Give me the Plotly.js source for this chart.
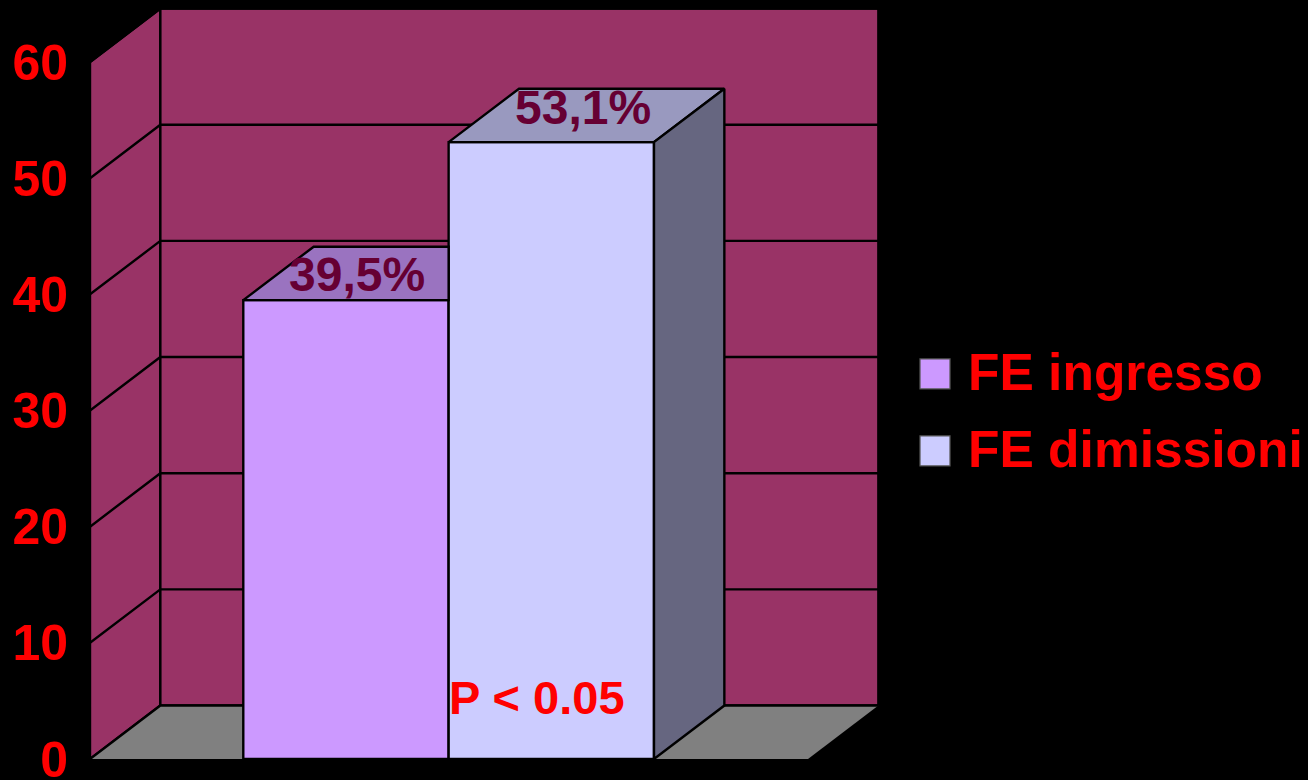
<!DOCTYPE html>
<html>
<head>
<meta charset="utf-8">
<script src="https://cdn.plot.ly/plotly-3.0.1.min.js"></script>
<style>html,body{margin:0;padding:0;background:#000;overflow:hidden}</style>
</head>
<body>
<div id="chart" style="width:1308px;height:780px"></div>
<script>
// Data
const seriesNames = ['FE ingresso', 'FE dimissioni'];
const seriesValues = [39.5, 53.1];
const valueLabels = ['39,5%', '53,1%'];
const yTicks = [0, 10, 20, 30, 40, 50, 60];
const note = 'P < 0.05';

// Axis-space layout of the pseudo-3D box
const barCenters = [0.3565, 0.6425];
const barWidth = 0.286;
const depthX = 0.098;
const depthY = 4.6;
const xMax = 789 / 718;
const yMax = 60 * 751 / 697;
const labelX = [0.3712, 0.6865];
const labelY = [41.7, 56.1];

const barColors = ['#CC99FF', '#CCCCFF'];
const topColors = ['#9A73C0', '#9999BF'];
const sideColors = ['#664D80', '#666680'];
const wall = '#993366', floor = '#808080', ink = '#000000';
const lineStyle = {color: ink, width: 2.4};

function poly(points) {
  return 'M' + points.map(p => p[0] + ',' + p[1]).join('L') + 'Z';
}

// Walls, floor and gridlines sit below the bars
const shapes = [
  {type: 'path', layer: 'below', xref: 'x', yref: 'y', fillcolor: wall, line: lineStyle,
   path: poly([[0, 0], [depthX, depthY], [depthX, 60 + depthY], [0, 60]])},
  {type: 'path', layer: 'below', xref: 'x', yref: 'y', fillcolor: wall, line: lineStyle,
   path: poly([[depthX, depthY], [1 + depthX, depthY], [1 + depthX, 60 + depthY], [depthX, 60 + depthY]])},
  {type: 'path', layer: 'below', xref: 'x', yref: 'y', fillcolor: floor, line: {color: ink, width: 0},
   path: poly([[0, 0], [1, 0], [1 + depthX, depthY], [depthX, depthY]])}
];
yTicks.forEach(t => {
  shapes.push({type: 'path', layer: 'below', xref: 'x', yref: 'y', line: lineStyle,
    path: 'M0,' + t + 'L' + depthX + ',' + (t + depthY) + 'L' + (1 + depthX) + ',' + (t + depthY)});
});

const traces = [];
seriesNames.forEach((name, i) => {
  traces.push({
    type: 'bar', name: name, x: [barCenters[i]], y: [seriesValues[i]], width: [barWidth],
    marker: {color: barColors[i], line: lineStyle}, legendgroup: name
  });
});
seriesNames.forEach((name, i) => {
  const v = seriesValues[i];
  const L = barCenters[i] - barWidth / 2, R = barCenters[i] + barWidth / 2;
  // the first bar's top and side are hidden behind the next bar's front face
  const nextL = i + 1 < seriesNames.length ? barCenters[i + 1] - barWidth / 2 : null;
  const backR = nextL === null ? R + depthX : nextL;
  const frontR = nextL === null ? R : nextL;
  traces.push({
    type: 'scatter', mode: 'lines', fill: 'toself', fillcolor: topColors[i], line: lineStyle,
    x: [L, L + depthX, backR, frontR, L], y: [v, v + depthY, v + depthY, v, v],
    showlegend: false, legendgroup: name
  });
  if (nextL === null) {
    traces.push({
      type: 'scatter', mode: 'lines', fill: 'toself', fillcolor: sideColors[i], line: lineStyle,
      x: [R, R + depthX, R + depthX, R, R], y: [0, depthY, v + depthY, v, 0],
      showlegend: false, legendgroup: name
    });
  }
});

const annotations = valueLabels.map((t, i) => ({
  text: t, xref: 'x', yref: 'y', x: labelX[i], y: labelY[i], showarrow: false,
  xanchor: 'center', yanchor: 'middle',
  font: {family: 'Liberation Sans', size: 48, color: '#660033', weight: 700}
}));
annotations.push({
  text: note, xref: 'x', yref: 'y', x: 0.623, y: 5.3, showarrow: false,
  xanchor: 'center', yanchor: 'middle',
  font: {family: 'Liberation Sans', size: 47, color: '#FF0000', weight: 700}
});

const layout = {
  width: 1308, height: 780,
  margin: {l: 90, r: 429, t: 8, b: 21, pad: 0, autoexpand: false},
  paper_bgcolor: '#000000', plot_bgcolor: '#000000',
  barmode: 'overlay', hovermode: false,
  xaxis: {range: [0, xMax], visible: false, fixedrange: true},
  yaxis: {
    range: [0, yMax], tickmode: 'array', tickvals: yTicks, ticktext: yTicks.map(String),
    showgrid: false, zeroline: false, showline: false, ticks: '', ticklabelstandoff: 21,
    ticklabeloverflow: 'allow',
    tickfont: {family: 'Liberation Sans', size: 50, color: '#FF0000', weight: 700},
    fixedrange: true, automargin: false
  },
  showlegend: true,
  legend: {
    x: (915 - 90) / 789, y: (780 - 21 - 330) / 751, xanchor: 'left', yanchor: 'top',
    bgcolor: 'rgba(0,0,0,0)', borderwidth: 0, itemwidth: 43, tracegroupgap: 7,
    itemclick: false, itemdoubleclick: false,
    font: {family: 'Liberation Sans', size: 51.5, color: '#FF0000', weight: 700}
  },
  shapes: shapes,
  annotations: annotations
};

Plotly.newPlot('chart', traces, layout, {displayModeBar: false, staticPlot: true}).then(() => {
  // enlarge the legend swatches to the reference's size
  document.querySelectorAll('.legend .traces .legendpoints path').forEach(p => {
    p.setAttribute('transform', 'translate(20,4) scale(2.5)');
    p.style.strokeWidth = '0.5px';
    p.style.stroke = '#555';
  });
});
</script>
</body>
</html>
